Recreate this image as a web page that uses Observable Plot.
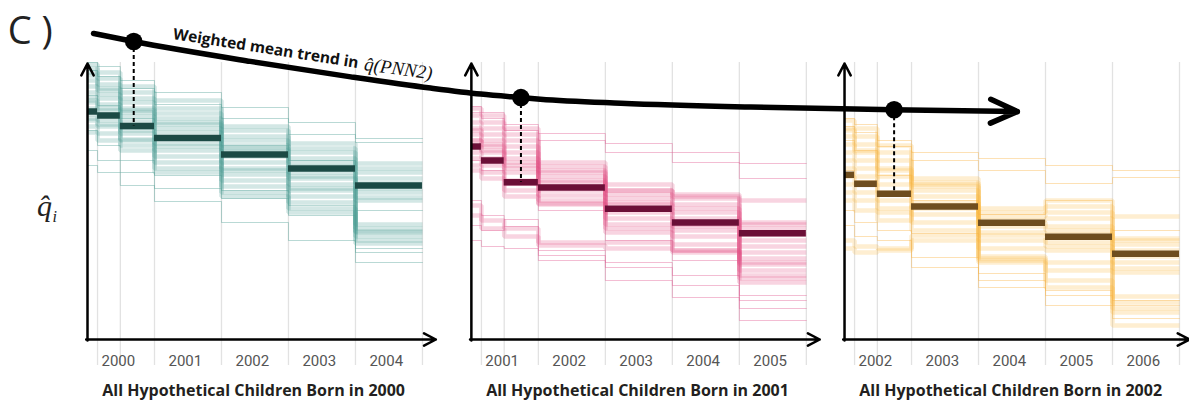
<!DOCTYPE html>
<html><head><meta charset="utf-8">
<script src="https://cdn.jsdelivr.net/npm/d3@7"></script>
<script src="https://cdn.jsdelivr.net/npm/@observablehq/plot@0.6"></script>
<style>body{margin:0;background:#fff}</style>
</head><body><div id="chart"></div>
<script>
// ---------- data ----------
const cohorts = ["2000", "2001", "2002"];
const stepAges = [0, 0.15, 0.49, 1, 2, 3, 4];   // age (years) where each q̂ step begins
const endAge = 5;
const yearLabelAges = [0.46, 1.46, 2.46, 3.46, 4.46];
const yearLabels2000 = ["2000", "2001", "2002", "2003", "2004"];
const yearLabels2001 = ["2001", "2002", "2003", "2004", "2005"];
const yearLabels2002 = ["2002", "2003", "2004", "2005", "2006"];
const panelTitles = ["All Hypothetical Children Born in 2000", "All Hypothetical Children Born in 2001", "All Hypothetical Children Born in 2002"];

// weighted mean q̂ per step
const mean2000 = [229, 225, 214.5, 202.5, 186, 172, 155];
const mean2001 = [194, 180, 158.3, 153, 131.7, 118, 107.3];
const mean2002 = [165.7, 156.7, 146.7, 134, 117.7, 103.7, 86.7];

// individual q̂ trajectories (7 steps each)
const bands2000 = [
  [276,268,254,240,214,197,177],[272,262,248,232,210,192,172],[265,256,242,227,204,188,168],
  [260,252,238,222,200,182,162],[254,246,232,216,195,178,157],[248,242,228,212,190,174,152],
  [243,236,224,208,184,168,148],[238,232,219,202,178,162,143],[232,226,213,197,172,156,116],
  [226,220,207,190,166,150,112],[220,214,201,184,160,144,108],[214,207,195,178,154,138,104],
  [208,200,190,172,148,132,100],[222,216,200,168,144,128,97],[240,230,210,194,170,152,140],
  [268,250,230,218,192,164,109]
];
const thin2000 = [
  [278,274,260,248,233,218,202],[270,264,252,236,222,206,198],[190,180,168,152,142,125,88],
  [175,168,155,139,118,100,78],[245,235,222,205,195,180,130],[210,195,180,165,150,135,92]
];
const bands2001 = [
  [232,225,212,178,156,146,140],[225,218,206,174,150,142,116],[218,212,200,168,146,136,112],
  [212,206,194,164,142,132,106],[206,200,188,160,138,128,100],[200,194,182,154,132,122,94],
  [194,188,175,150,128,116,88],[188,182,168,145,122,110,82],[182,175,160,140,116,104,76],
  [175,168,150,136,112,96,70],[170,162,144,137,108,90,62],[135,120,112,98,98,90,78],
  [125,112,104,95,92,88,65],[200,190,178,170,150,144,118],[210,196,172,158,136,114,58]
];
const thin2001 = [
  [234,228,216,207,197,188,177],[228,222,210,200,188,178,162],[115,110,121,90,73,65,32],
  [100,94,92,80,60,55,20],[140,125,114,85,78,43,40],[180,170,155,130,100,80,45]
];
const bands2002 = [
  [220,212,195,162,132,140,124],[212,204,188,158,128,134,102],[204,196,180,154,124,128,96],
  [196,188,172,150,120,122,90],[188,180,164,144,114,114,84],[180,172,156,138,108,106,78],
  [172,164,148,132,100,98,72],[164,156,140,126,92,90,44],[156,148,132,118,84,78,38],
  [148,140,128,110,80,70,32],[100,94,92,105,82,60,28],[92,88,90,100,78,53,15],
  [140,130,120,135,105,94,68],[210,190,170,156,118,110,100]
];
const thin2002 = [
  [222,216,200,188,182,175,170],[214,208,194,180,170,157,163],[130,118,110,107,67,50,40],
  [115,104,100,83,53,35,22],[170,160,144,73,60,45,35],[200,190,165,140,126,140,110]
];

// weighted-mean trend across cohorts (global position, q̂)
const trendX = [0.09, 0.69, 2.43, 3.93, 5.12, 5.87, 6.47, 6.76, 7.96, 9.90, 12.04];
const trendQ = [307, 299, 279.1, 263.6, 252.4, 246.4, 242.9, 241.3, 237.3, 233.4, 230.8];
const trendArrowEndX = 13.88, trendArrowEndQ = 228.9;
const dotAge = [0.69, 0.74, 0.74];
const dotQ = [299, 242.9, 230.8];

// ---------- layout & style ----------
const panelOffset = [0, 5.73, 11.3];
const palette = [
  {band: "#3f978e", thin: "#4f9f96", mean: "#1b4a45"},
  {band: "#e0457f", thin: "#e25a92", mean: "#6b0f37"},
  {band: "#fbb43a", thin: "#f9b547", mean: "#6e4d1f"}
];
const panels = [
  {bands: bands2000, thin: thin2000, mean: mean2000, years: yearLabels2000},
  {bands: bands2001, thin: thin2001, mean: mean2001, years: yearLabels2001},
  {bands: bands2002, thin: thin2002, mean: mean2002, years: yearLabels2002}
];
const gridAges = [...stepAges.slice(1), endAge];

function traceRows(traces, k) {
  const off = panelOffset[k], rows = [];
  traces.forEach((tr, j) => {
    stepAges.forEach((a, i) => rows.push({id: `${k}-${j}`, x: off + a, q: tr[i]}));
    rows.push({id: `${k}-${j}`, x: off + endAge, q: tr[tr.length - 1]});
  });
  return rows;
}

const marks = [];
// gridlines
panels.forEach((p, k) => {
  marks.push(Plot.ruleX(gridAges, {x: a => panelOffset[k] + a, y1: -25, y2: 278, stroke: "#e2e2e2", strokeWidth: 1.3}));
});
// samples
panels.forEach((p, k) => {
  const c = palette[k];
  marks.push(Plot.line(traceRows(p.bands, k), {x: "x", y: "q", z: "id", curve: "step-after", stroke: c.band, strokeWidth: 4.5, strokeOpacity: 0.23, strokeLinejoin: "miter", strokeLinecap: "butt"}));
  marks.push(Plot.line(traceRows(p.thin, k), {x: "x", y: "q", z: "id", curve: "step-after", stroke: c.thin, strokeWidth: 1, strokeOpacity: 0.4}));
  const meanRows = p.mean.map((m, i) => ({x1: panelOffset[k] + stepAges[i], x2: panelOffset[k] + (i + 1 < stepAges.length ? stepAges[i + 1] : endAge), q: m}));
  marks.push(Plot.ruleY(meanRows, {x1: "x1", x2: "x2", y: "q", stroke: c.mean, strokeWidth: 6.5}));
});
// axes
panels.forEach((p, k) => {
  const off = panelOffset[k];
  marks.push(Plot.arrow([{x1: off, y1: 0, x2: off, y2: 277}, {x1: off - 0.02, y1: 1, x2: off + (k === 2 ? 5.15 : 5.2), y2: 1}],
    {x1: "x1", y1: "y1", x2: "x2", y2: "y2", stroke: "#000", strokeWidth: 2.5, headLength: 8, headAngle: 55}));
  marks.push(Plot.text(p.years, {x: (d, i) => off + yearLabelAges[i], y: -25, text: d => d, lineAnchor: "bottom", fontSize: 15, fontFamily: "Roboto", fill: "#555"}));
  marks.push(Plot.text([panelTitles[k]], {x: off + 2.48, y: -55, text: d => d, lineAnchor: "bottom", fontSize: 16, fontWeight: "bold", fontFamily: "Open Sans", fill: "#231f20"}));
});
// dashed drops from trend to third step
const dotRows = cohorts.map((c, k) => ({x: panelOffset[k] + dotAge[k], q: dotQ[k], qm: panels[k].mean[2]}));
marks.push(Plot.ruleX(dotRows, {x: "x", y1: "q", y2: "qm", stroke: "#000", strokeWidth: 2, strokeDasharray: "4,3"}));
// trend
marks.push(Plot.line(trendX.map((x, i) => ({x, q: trendQ[i]})), {x: "x", y: "q", curve: "monotone-x", stroke: "#000", strokeWidth: 5.5}));
marks.push(Plot.arrow([{x1: trendX[trendX.length - 1] - 0.05, y1: trendQ[trendQ.length - 1], x2: trendArrowEndX, y2: trendArrowEndQ}],
  {x1: "x1", y1: "y1", x2: "x2", y2: "y2", stroke: "#000", strokeWidth: 5.5, headLength: 8, headAngle: 48}));
marks.push(Plot.dot(dotRows, {x: "x", y: "q", r: 8.8, fill: "#000"}));
// annotations
marks.push(Plot.text(["Weighted mean trend in"], {x: 1.27, y: 301.5, text: d => d, textAnchor: "start", lineAnchor: "bottom", rotate: 8.9, fontSize: 15.5, fontWeight: "bold", fontFamily: "Open Sans", fill: "#111"}));
marks.push(Plot.text(["q\u0302(PNN2)"], {x: 4.12, y: 270.5, text: d => d, textAnchor: "start", lineAnchor: "bottom", rotate: 8, fontSize: 19, fontStyle: "italic", fontFamily: "Liberation Serif", fill: "#111"}));
marks.push(Plot.text(["C )"], {x: -1.19, y: 297, text: d => d, textAnchor: "start", lineAnchor: "bottom", fontSize: 38, fontFamily: "Open Sans", fill: "#222"}));
marks.push(Plot.text(["q\u0302"], {x: -0.64, y: 125, text: d => d, lineAnchor: "bottom", fontSize: 30, fontStyle: "italic", fontFamily: "Liberation Serif", fill: "#222"}));
marks.push(Plot.text(["i"], {x: -0.49, y: 119, text: d => d, lineAnchor: "bottom", fontSize: 16, fontStyle: "italic", fontFamily: "Liberation Serif", fill: "#222"}));

const chart = Plot.plot({
  width: 1189, height: 405,
  marginLeft: 87, marginRight: 10, marginTop: 60, marginBottom: 65,
  x: {domain: [0, 16.3], axis: null},
  y: {domain: [0, 280], axis: null},
  style: {background: "#fff"},
  marks
});
document.getElementById("chart").appendChild(chart);
</script>
</body></html>
